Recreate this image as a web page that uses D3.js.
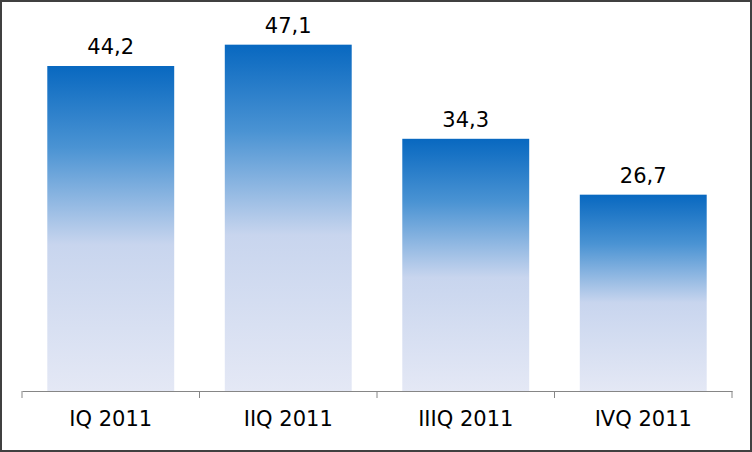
<!DOCTYPE html>
<html>
<head>
<meta charset="utf-8">
<script src="https://cdn.jsdelivr.net/npm/d3@7"></script>
<style>
  body { margin: 0; background: #fff; }
</style>
</head>
<body>
<div id="chart-area"></div>
<script>
var categories = ["IQ 2011", "IIQ 2011", "IIIQ 2011", "IVQ 2011"];
var values = [44.2, 47.1, 34.3, 26.7];

var width = 752, height = 452;
var left = 22, right = 732, baseline = 391;

var svg = d3.select("#chart-area").append("svg")
    .attr("width", width)
    .attr("height", height);

// outer frame
svg.append("rect")
    .attr("x", 1).attr("y", 1)
    .attr("width", width - 2).attr("height", height - 2)
    .attr("fill", "white")
    .attr("stroke", "#404040")
    .attr("stroke-width", 2);

var grad = svg.append("defs").append("linearGradient")
    .attr("id", "barGrad")
    .attr("x1", 0).attr("y1", 0).attr("x2", 0).attr("y2", 1);
grad.append("stop").attr("offset", "0%").attr("stop-color", "#0868c0");
grad.append("stop").attr("offset", "25%").attr("stop-color", "#4a93d3");
grad.append("stop").attr("offset", "55%").attr("stop-color", "#c8d5ee");
grad.append("stop").attr("offset", "100%").attr("stop-color", "#e4e8f5");

var x = d3.scaleBand()
    .domain(categories)
    .range([left, right])
    .paddingInner(0.285)
    .paddingOuter(0.1425);

var y = d3.scaleLinear()
    .domain([0, 44.2])
    .range([baseline, 66]);

svg.selectAll("rect.bar")
    .data(values)
    .enter()
    .append("rect")
        .attr("class", "bar")
        .attr("x", (d, i) => x(categories[i]))
        .attr("y", (d) => y(d))
        .attr("width", x.bandwidth())
        .attr("height", (d) => baseline - y(d))
        .attr("fill", "url(#barGrad)");

// value labels
svg.selectAll("text.val")
    .data(values)
    .enter()
    .append("text")
        .attr("class", "val")
        .attr("x", (d, i) => x(categories[i]) + x.bandwidth() / 2)
        .attr("y", (d) => y(d) - 12)
        .attr("text-anchor", "middle")
        .style("font-family", "'DejaVu Sans', sans-serif")
        .style("font-size", "21px")
        .style("fill", "#000")
        .text((d) => d3.format(".1f")(d).replace(".", ","));

// x axis
var xAxisCall = d3.axisBottom(x).tickSize(0).tickPadding(20);
var xa = svg.append("g")
    .attr("transform", "translate(0, " + baseline + ")")
    .call(xAxisCall);
xa.select(".domain").attr("stroke", "#868686").attr("stroke-width", 1);
xa.selectAll(".tick text")
    .style("font-family", "'DejaVu Sans', sans-serif")
    .style("font-size", "21px")
    .style("fill", "#000");

// category separators
var edges = categories.map((c) => x(c) - x.step() * x.paddingInner() / 2);
edges.push(right);
edges[0] = left;
svg.selectAll("line.sep")
    .data(edges)
    .enter()
    .append("line")
        .attr("class", "sep")
        .attr("x1", (d) => d).attr("x2", (d) => d)
        .attr("y1", baseline).attr("y2", baseline + 7)
        .attr("stroke", "#868686");
</script>
</body>
</html>
